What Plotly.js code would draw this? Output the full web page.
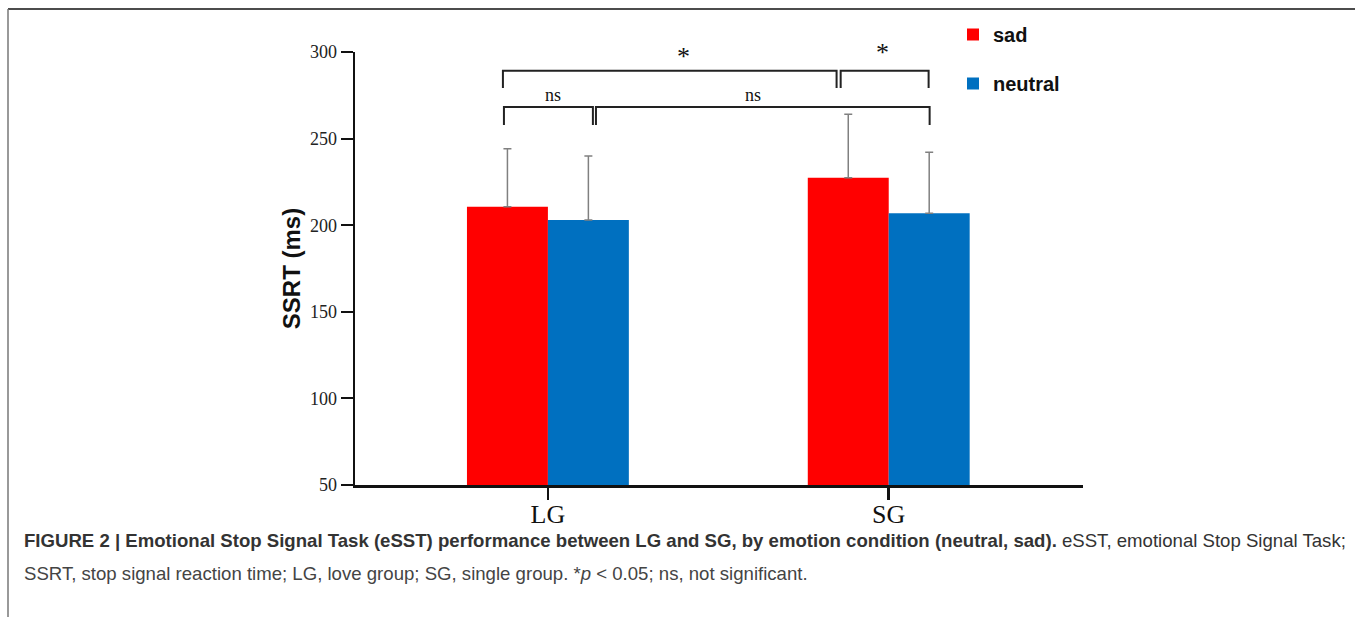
<!DOCTYPE html>
<html><head><meta charset="utf-8">
<script src="https://cdn.plot.ly/plotly-3.0.1.min.js"></script>
<style>html,body{margin:0;padding:0;background:#fff}</style>
</head><body><div id="chart" style="width:1355px;height:617px"></div>
<script>
// ---- data ----
const groups = ["LG", "SG"];
const sadValues = [210.7, 227.4];
const sadErrors = [33.5, 36.6];
const neutralValues = [203.0, 206.9];
const neutralErrors = [37.0, 35.2];
const seriesNames = ["sad", "neutral"];
const yTickVals = [50, 100, 150, 200, 250, 300];
const comparisonLabels = ["*", "*", "ns", "ns"];

// ---- layout helpers (pixel geometry of the plot area) ----
const L = 355, R = 1083, T = 52, B = 485;
const px2x = p => (p - L) / (R - L);   // paper x
const py2y = p => (B - p) / (B - T);   // paper y

const traces = [
  {type: "bar", name: seriesNames[0], x: groups, y: sadValues,
   marker: {color: "#FF0000"}, legendgroup: "a",
   error_y: {type: "data", symmetric: false, array: sadErrors, arrayminus: [0, 0],
             color: "#808080", thickness: 1.5, width: 4}},
  {type: "bar", name: seriesNames[1], x: groups, y: neutralValues,
   marker: {color: "#0070C0"}, legendgroup: "b",
   error_y: {type: "data", symmetric: false, array: neutralErrors, arrayminus: [0, 0],
             color: "#808080", thickness: 1.5, width: 4}}
];

// significance brackets (data coords, category index units)
const brackets = [
  {x0: -0.132, x1: 0.847, top: 289.2, leg: 279.2},
  {x0: 0.859, x1: 1.117, top: 289.2, leg: 279.2},
  {x0: -0.129, x1: 0.132, top: 268.2, leg: 257.9},
  {x0: 0.141, x1: 1.120, top: 268.2, leg: 257.9}
];
const labelPos = [
  {x: 0.399, y: 297.5, size: 26},
  {x: 0.982, y: 299.5, size: 26},
  {x: 0.015, y: 275.2, size: 18},
  {x: 0.601, y: 275.2, size: 18}
];

const shapes = [];
brackets.forEach(b => {
  shapes.push({type: "path", xref: "x", yref: "y",
    path: `M ${b.x0},${b.leg} L ${b.x0},${b.top} L ${b.x1},${b.top} L ${b.x1},${b.leg}`,
    line: {color: "#222", width: 2}});
});
// figure frame
shapes.push({type: "line", xref: "paper", yref: "paper", x0: px2x(8), x1: px2x(1355), y0: py2y(9), y1: py2y(9), line: {color: "#111", width: 1.5}});
shapes.push({type: "line", xref: "paper", yref: "paper", x0: px2x(8), x1: px2x(8), y0: py2y(9), y1: py2y(617), line: {color: "#777", width: 1.5}});

const annotations = comparisonLabels.map((t, i) => ({
  text: t, x: labelPos[i].x, y: labelPos[i].y, xref: "x", yref: "y",
  showarrow: false, yanchor: "middle",
  font: {family: "Liberation Serif", size: labelPos[i].size, color: "#111"}
}));
annotations.push({
  text: "<b>FIGURE 2 | Emotional Stop Signal Task (eSST) performance between LG and SG, by emotion condition (neutral, sad).</b> eSST, emotional Stop Signal Task;",
  xref: "paper", yref: "paper", x: px2x(22), y: py2y(540), xanchor: "left", yanchor: "middle",
  showarrow: false, font: {family: "Liberation Sans", size: 18.6, color: "#333"}
});
annotations.push({
  text: "SSRT, stop signal reaction time; LG, love group; SG, single group. *<i>p</i> &lt; 0.05; ns, not significant.",
  xref: "paper", yref: "paper", x: px2x(22), y: py2y(573), xanchor: "left", yanchor: "middle",
  showarrow: false, font: {family: "Liberation Sans", size: 18.6, color: "#444"}
});

const layout = {
  width: 1355, height: 617,
  paper_bgcolor: "#fff", plot_bgcolor: "#fff",
  margin: {l: L, r: 1355 - R, t: T, b: 617 - B},
  barmode: "group", bargap: 0.525, bargroupgap: 0,
  showlegend: true,
  legend: {x: px2x(953), y: py2y(15), xanchor: "left", yanchor: "top",
           traceorder: "grouped", tracegroupgap: 20,
           font: {family: "Liberation Sans", size: 20, color: "#111", weight: "bold"},
           bgcolor: "rgba(0,0,0,0)"},
  xaxis: {range: [-0.566, 1.57], showline: true, linecolor: "#111", linewidth: 2.5,
          ticks: "outside", ticklen: 12, tickwidth: 2.5, tickcolor: "#111",
          ticklabelstandoff: -8,
          showgrid: false, zeroline: false,
          tickfont: {family: "Liberation Serif", size: 26, color: "#111"}},
  yaxis: {range: [50, 300], tickvals: yTickVals, showline: true, linecolor: "#111", linewidth: 2.5,
          ticks: "outside", ticklen: 12, tickwidth: 2, tickcolor: "#111",
          showgrid: false, zeroline: false,
          tickfont: {family: "Liberation Serif", size: 18, color: "#222"},
          title: {text: "<b>SSRT (ms)</b>", standoff: 3,
                  font: {family: "Liberation Sans", size: 24, color: "#111"}}},
  shapes: shapes,
  annotations: annotations
};

Plotly.newPlot("chart", traces, layout, {displayModeBar: false, staticPlot: true});
</script></body></html>
